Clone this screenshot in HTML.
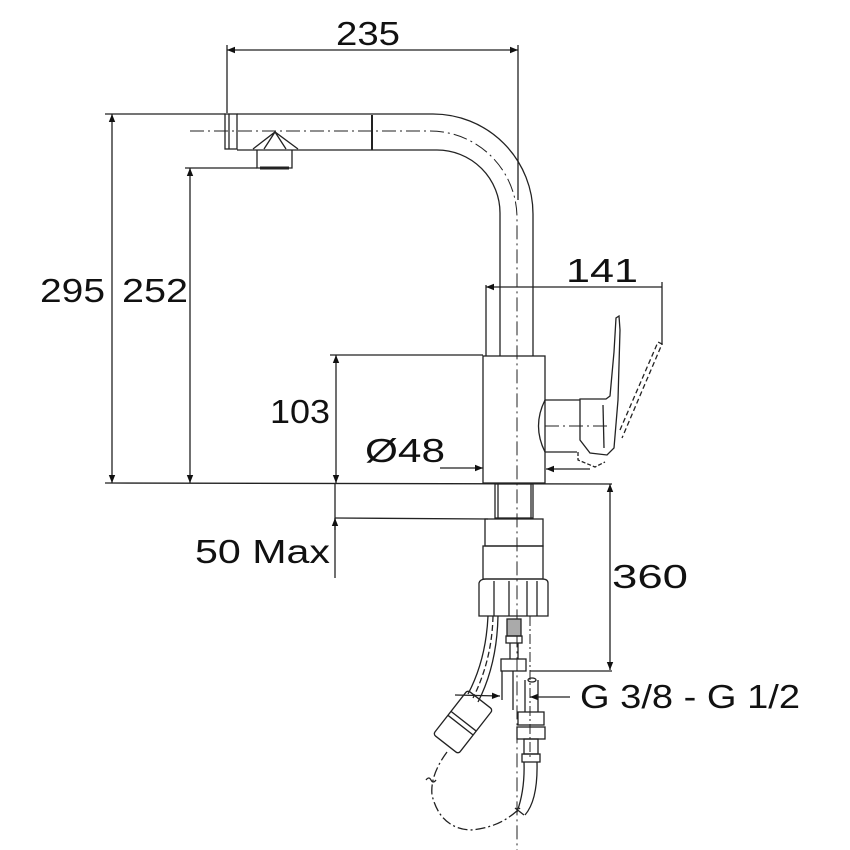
<!DOCTYPE html>
<html><head><meta charset="utf-8"><style>
html,body{margin:0;padding:0;background:#fff;}
svg{display:block;}
text{font-family:"Liberation Sans",sans-serif;fill:#111;}
</style></head><body>
<svg width="850" height="850" viewBox="0 0 850 850" xmlns="http://www.w3.org/2000/svg">
<defs>
<marker id="a" viewBox="0 0 10 10" refX="10" refY="5" markerWidth="10" markerHeight="8" orient="auto-start-reverse" markerUnits="userSpaceOnUse"><path d="M0,1 L10,5 L0,9 z" fill="#111"/></marker>
</defs>
<g stroke="#222" stroke-width="1.3" fill="none">
<line x1="227" y1="45" x2="227" y2="113"/>
<line x1="518" y1="45" x2="518" y2="200"/>
<line x1="227" y1="50" x2="518" y2="50" marker-start="url(#a)" marker-end="url(#a)"/>
<line x1="105" y1="114" x2="225" y2="114"/>
<line x1="112" y1="114" x2="112" y2="483" marker-start="url(#a)" marker-end="url(#a)"/>
<line x1="185" y1="168" x2="257" y2="168"/>
<line x1="190" y1="168" x2="190" y2="483" marker-start="url(#a)" marker-end="url(#a)"/>
<line x1="105" y1="483" x2="612" y2="484"/>
<line x1="330" y1="355" x2="483" y2="355"/>
<line x1="336" y1="355" x2="336" y2="483" marker-start="url(#a)" marker-end="url(#a)"/>
<line x1="335" y1="483" x2="335" y2="578"/>
<line x1="335" y1="530" x2="335" y2="518" marker-end="url(#a)"/>
<line x1="335" y1="518" x2="488" y2="519"/>
<line x1="486" y1="285" x2="486" y2="356"/>
<line x1="662" y1="282" x2="662" y2="345"/>
<line x1="486" y1="287" x2="662" y2="287" marker-start="url(#a)"/>
<line x1="440" y1="468" x2="483" y2="468" marker-end="url(#a)"/>
<line x1="590" y1="469" x2="546" y2="469" marker-end="url(#a)"/>
<line x1="610" y1="484" x2="610" y2="670" marker-start="url(#a)" marker-end="url(#a)"/>
<line x1="530" y1="671" x2="612" y2="671"/>
<line x1="455" y1="695" x2="500" y2="696" marker-end="url(#a)"/>
<line x1="570" y1="697" x2="530" y2="697" marker-end="url(#a)"/>

<rect x="225" y="114" width="12" height="35"/>
<line x1="229" y1="114" x2="229" y2="149"/>
<path d="M237,114 H433 A100,100 0 0 1 533,214 V356"/>
<path d="M237,150 H437 A63,63 0 0 1 500,213 V356"/>
<line x1="372" y1="115" x2="372" y2="150" stroke-width="2"/>
<path d="M253,149 L275,132 L298,149 M257,150 L257,168 L292,168 L292,150 M264,149 L275,132 L286,149"/>
<line x1="260" y1="168" x2="289" y2="168" stroke-width="3"/>
<path d="M190,131 H430 A87,87 0 0 1 517,218 V850" stroke-dasharray="14,4,2,4" stroke-width="1"/>

<rect x="483" y="356" width="62" height="127"/>
<path d="M545,400 Q532,426 545,452"/>
<line x1="545" y1="400" x2="580" y2="400"/>
<line x1="545" y1="452" x2="577" y2="452"/>
<path d="M580,399 H606 L610,396 L614,352 L616,318 L619,316 L620,330 L618,400 L614,448 L607,455 L590,453 L580,440 Z"/>
<line x1="603" y1="405" x2="604" y2="448"/>
<path d="M578,452 L578,460 L595,467 L605,462" stroke-dasharray="4,2"/>
<path d="M620,430 L658,342 L662,344 L622,438" stroke-dasharray="5,3"/>
<line x1="545" y1="426" x2="610" y2="426" stroke-dasharray="14,4,2,4" stroke-width="1"/>

<rect x="495" y="484" width="38" height="34"/>
<line x1="498" y1="484" x2="498" y2="518"/><line x1="531" y1="484" x2="531" y2="518"/>
<rect x="485" y="519" width="58" height="27"/>
<rect x="483" y="546" width="60" height="33"/>
<path d="M479,583 Q480,579 486,579 H542 Q548,579 548,583 V616 H479 Z"/>
<line x1="494" y1="581" x2="494" y2="616"/><line x1="509" y1="581" x2="509" y2="616"/>
<line x1="527" y1="581" x2="527" y2="616"/><line x1="537" y1="581" x2="537" y2="616"/>
<path d="M488,616 Q486,660 468,694"/>
<path d="M498,616 Q497,665 478,702"/>
<path d="M493,616 Q492,660 473,698" stroke-dasharray="6,3"/>
<g transform="translate(463,722) rotate(-52)">
<rect x="-28" y="-16" width="56" height="32" rx="3"/>
<line x1="-4" y1="-16" x2="-4" y2="16"/><line x1="1" y1="-16" x2="1" y2="16"/>
</g>
<path d="M447,752 Q430,775 432,795 Q440,828 470,830 Q500,828 520,808" stroke-dasharray="10,3,2,3"/>
<path d="M426,780 q3,-4 5,0 q2,4 5,0"/>
<rect x="507" y="619" width="14" height="17" fill="#aaa"/>
<rect x="506" y="636" width="16" height="7"/>
<line x1="510" y1="643" x2="510" y2="659"/><line x1="518" y1="643" x2="518" y2="659"/>
<rect x="501" y="659" width="25" height="12"/>
<line x1="502" y1="671" x2="502" y2="700"/><line x1="513" y1="671" x2="513" y2="710"/>
<path d="M525,680 V712 M538,680 V712"/>
<ellipse cx="532" cy="680" rx="4" ry="2"/>
<rect x="518" y="712" width="26" height="13"/>
<rect x="517" y="727" width="28" height="12"/>
<rect x="524" y="739" width="14" height="15"/>
<rect x="522" y="754" width="18" height="8"/>
<path d="M524,762 Q525,790 517,812 M537,762 Q538,800 525,815 M515,808 L524,815"/>
<line x1="530" y1="616" x2="530" y2="760" stroke-dasharray="10,3,2,3" stroke-width="1"/>
</g>
<g font-size="33">
<text x="336" y="45" textLength="64" lengthAdjust="spacingAndGlyphs">235</text>
<text x="40" y="302" textLength="65" lengthAdjust="spacingAndGlyphs">295</text>
<text x="122" y="302" textLength="66" lengthAdjust="spacingAndGlyphs">252</text>
<text x="566" y="282" textLength="72" lengthAdjust="spacingAndGlyphs">141</text>
<text x="270" y="423" textLength="60" lengthAdjust="spacingAndGlyphs">103</text>
<text x="365" y="462" textLength="80" lengthAdjust="spacingAndGlyphs">Ø48</text>
<text x="195" y="563" textLength="135" lengthAdjust="spacingAndGlyphs">50 Max</text>
<text x="612" y="588" textLength="76" lengthAdjust="spacingAndGlyphs">360</text>
<text x="580" y="708" textLength="220" lengthAdjust="spacingAndGlyphs">G 3/8 - G 1/2</text>
</g>
</svg>
</body></html>
